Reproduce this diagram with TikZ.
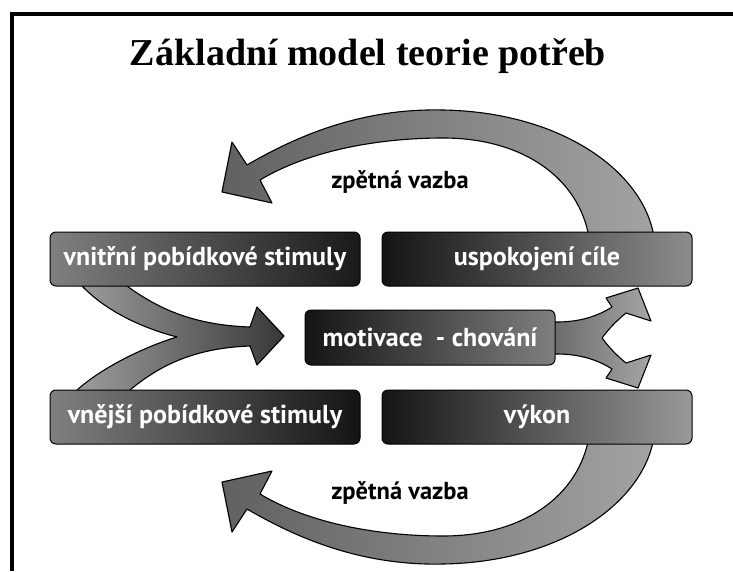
\documentclass[tikz,border=0pt]{standalone}
\usepackage{fontspec}
\setmainfont{Liberation Serif}
\newfontfamily\boxfont{PT Sans}
\tikzset{
  box/.style={draw=black, line width=1pt, rounded corners=6pt, minimum width=310pt,
    minimum height=54pt, inner sep=0pt, text=white,
    font=\boxfont\bfseries\fontsize{26}{28}\selectfont},
  fat/.style={draw=black, line width=1.1pt, line join=round},
  lbl/.style={font=\boxfont\bfseries\fontsize{24.5}{26}\selectfont, text=black}
}
\begin{document}
\begin{tikzpicture}[x=1pt,y=-1pt]
\useasboundingbox (0,0) rectangle (733,571);
\fill[white] (0,0) rectangle (733,571);
% frame (top and left only)
\fill[black] (10,12) rectangle (733,16);
\fill[black] (10,12) rectangle (14,571);
% title
\node[font=\bfseries\fontsize{38}{40}\selectfont] (title) at (368,56) {Základní model teorie potřeb};
% top feedback arc
\path[fat, left color=black!62, right color=black!36]
  (656,246) -- (653,232) .. controls (640,170) and (560,112) .. (443,110)
  .. controls (360,108) and (295,137) .. (247,165)
  -- (232,142) -- (222,192) -- (272,203) -- (260,180)
  .. controls (310,150) and (380,138) .. (443,138)
  .. controls (520,138) and (575,175) .. (588,232) -- (592,246) -- cycle;
% bottom feedback arc
\path[fat, left color=black!62, right color=black!36]
  (656,428) -- (653,442) .. controls (640,504) and (560,562) .. (443,564)
  .. controls (360,566) and (295,537) .. (247,509)
  -- (232,532) -- (222,482) -- (272,471) -- (260,494)
  .. controls (310,524) and (380,536) .. (443,536)
  .. controls (520,536) and (575,499) .. (588,442) -- (592,428) -- cycle;
% merging arrow
\path[fat, left color=black!38, right color=black!78]
  (80,272) -- (82,286) .. controls (110,315) and (150,330) .. (177,337)
  .. controls (150,345) and (105,365) .. (77,390) -- (75,404) -- (132,404) -- (130,390)
  .. controls (160,365) and (195,348) .. (250,346)
  -- (257,365) -- (284,336) -- (257,307) -- (250,327)
  .. controls (195,325) and (160,310) .. (127,286) -- (125,272) -- cycle;
% splitting arrow
\path[fat, left color=black!60, right color=black!35]
  (545,322) -- (557,322) .. controls (580,322) and (598,316) .. (612,307)
  -- (606,298) -- (638,288) -- (651,321) -- (626,313)
  .. controls (615,322) and (608,330) .. (602,338)
  .. controls (608,346) and (615,354) .. (626,363)
  -- (651,355) -- (638,388) -- (606,378) -- (612,369)
  .. controls (598,360) and (580,354) .. (557,354) -- (545,354) -- cycle;
% boxes
\node[box, left color=black!50, right color=black!90] (vnitrni) at (205,259) {vnitřní pobídkové stimuly};
\node[box, left color=black!92, right color=black!45] (cil) at (537,259) {uspokojení cíle};
\node[box, minimum width=250pt, minimum height=55pt, left color=black!92, right color=black!50] (motiv) at (430,337.5) {motivace\ \ - chování};
\node[box, left color=black!50, right color=black!92] (vnejsi) at (205,417) {vnější pobídkové stimuly};
\node[box, left color=black!92, right color=black!40] (vykon) at (537,417) {výkon};
% labels
\node[lbl] (fb1) at (400,182) {zpětná vazba};
\node[lbl] (fb2) at (400,493) {zpětná vazba};
\end{tikzpicture}
\end{document}
